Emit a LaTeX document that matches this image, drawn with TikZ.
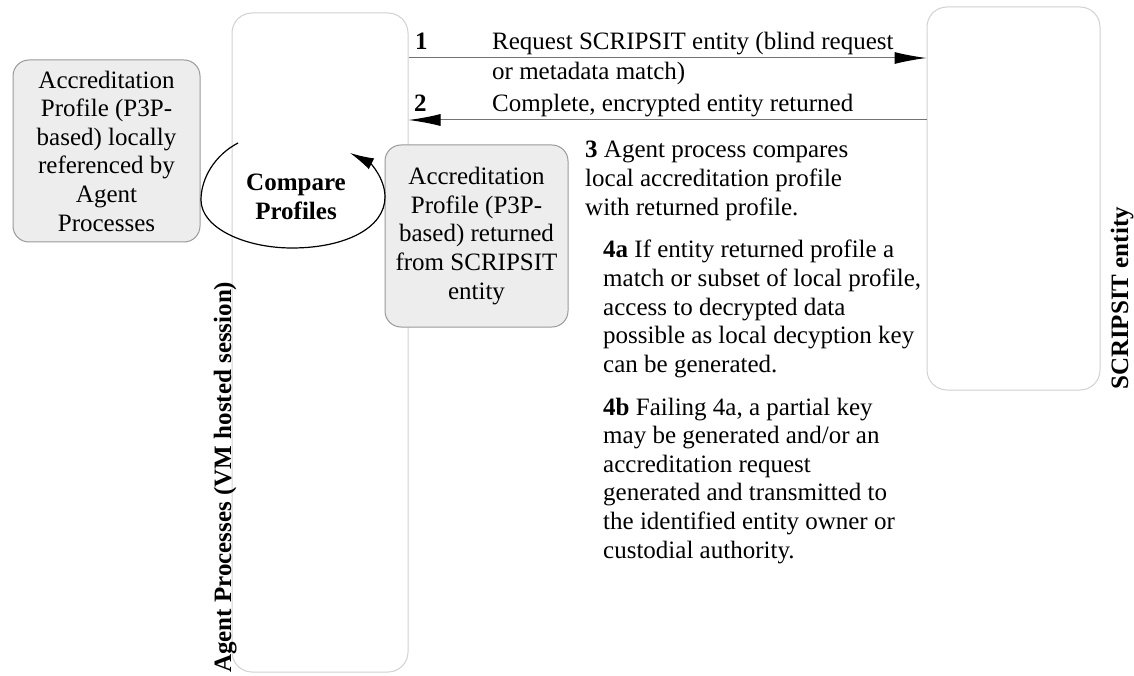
\documentclass[tikz,border=0pt]{standalone}
\usepackage{fontspec}
\setmainfont{Liberation Serif}
\usetikzlibrary{arrows.meta}
\begin{document}
\begin{tikzpicture}[x=1pt,y=-1pt,
  every node/.style={font=\fontsize{25}{28.6}\selectfont, inner sep=0pt},
  bfont/.style={font=\fontsize{25}{28.6}\selectfont\bfseries},
  graybox/.style={draw=black!40, fill=black!7, rounded corners=16pt, line width=1pt, align=center},
  lanebox/.style={draw=black!18, fill=white, rounded corners=20pt, line width=1pt},
  msg/.style={draw=black!55, line width=1pt, -{Latex[length=32pt,width=12pt,color=black]}},
  lbl/.style={anchor=base west},
  vlbl/.style={rotate=90, anchor=base west, font=\fontsize{25}{28}\selectfont\bfseries}]
\useasboundingbox (0,0) rectangle (1134,676);
% lanes
\node[lanebox, minimum width=176pt, minimum height=659pt] (agent) at (320,342.5) {};
\node[lanebox, minimum width=173pt, minimum height=383pt] (scr) at (1013.5,198.5) {};
% profile boxes
\node[graybox, minimum width=187pt, minimum height=182pt] (local) at (106.5,151)
  {Accreditation\\Profile (P3P-\\based) locally\\referenced by\\Agent\\Processes};
\node[graybox, minimum width=183pt, minimum height=182pt] (ret) at (476.5,236)
  {Accreditation\\Profile (P3P-\\based) returned\\from SCRIPSIT\\entity};
% messages
\coordinate (y1) at (0,58);
\coordinate (y2) at (0,120);
\draw[msg] (agent.east |- y1) -- (scr.west |- y1);
\draw[msg] (scr.west |- y2) -- (agent.east |- y2);
\node[lbl, bfont] (n1) at (415,50) {1};
\node[lbl] (t1) at (492,50) {\parbox[t]{430pt}{\fontsize{25}{30}\selectfont\raggedright Request SCRIPSIT entity (blind request\\or metadata match)}};
\node[lbl, bfont] (n2) at (414,112) {2};
\node[lbl] (t2) at (492,112) {Complete, encrypted entity returned};
% compare loop
\node[bfont, align=center] (cmp) at (296,197) {Compare\\Profiles};
\draw[line width=1.2pt, -{Latex[length=24pt,width=12pt]}]
  (238,143) .. controls (215,155) and (201,178) .. (201,200)
  .. controls (201,228) and (245,248) .. (292,248)
  .. controls (345,248) and (385,228) .. (385,197)
  .. controls (385,178) and (370,163) .. (350,153);
% step texts
\node[lbl] (s3) at (585,158) {\parbox[t]{340pt}{\raggedright \textbf{3} Agent process compares\\local accreditation profile\\with returned profile.}};
\node[lbl] (s4a) at (603,258) {\parbox[t]{340pt}{\raggedright \textbf{4a} If entity returned profile a\\match or subset of local profile,\\access to decrypted data\\possible as local decyption key\\can be generated.}};
\node[lbl] (s4b) at (603,415) {\parbox[t]{340pt}{\raggedright \textbf{4b} Failing 4a, a partial key\\may be generated and/or an\\accreditation request\\generated and transmitted to\\the identified entity owner or\\custodial authority.}};
% lane labels
\node[vlbl] (agentlbl) at (231,673) {Agent Processes (VM hosted session)};
\node[vlbl] (scrlbl) at (1128,390) {SCRIPSIT entity};
\end{tikzpicture}
\end{document}
